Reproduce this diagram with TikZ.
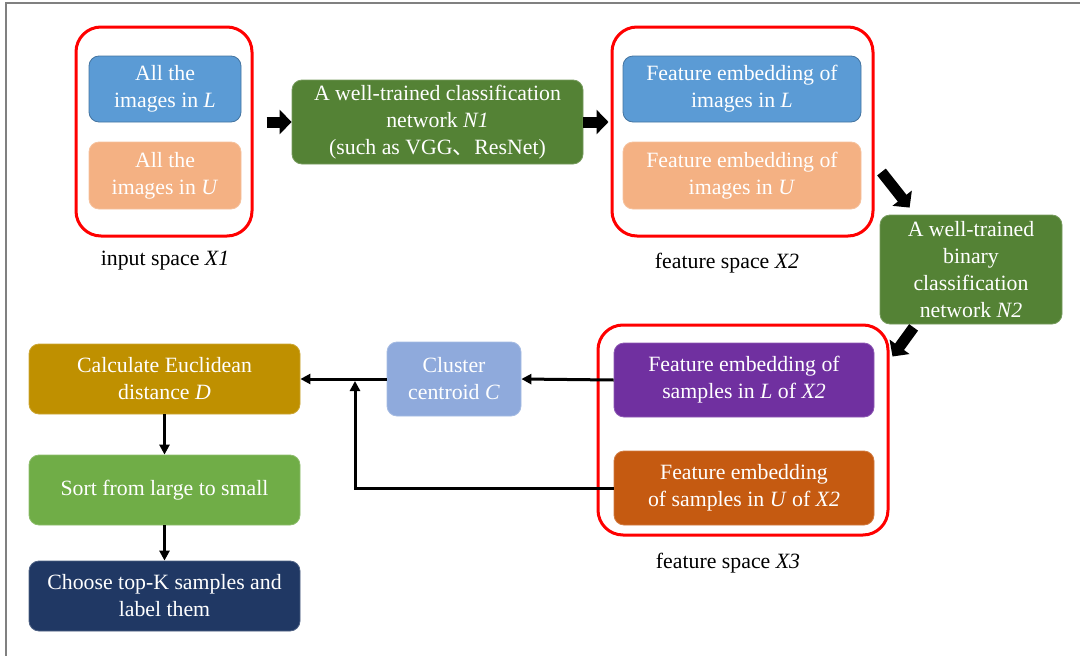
\documentclass[tikz,border=0pt]{standalone}
\usepackage{fontspec}
\setmainfont{Liberation Serif}
\newfontfamily\cjk{Noto Sans CJK SC}
\usetikzlibrary{arrows.meta}

\definecolor{lblue}{HTML}{5B9BD5}
\definecolor{lorange}{HTML}{F4B183}
\definecolor{netgreen}{HTML}{548235}
\definecolor{vpurple}{HTML}{7030A0}
\definecolor{dorange}{HTML}{C55A11}
\definecolor{cblue}{HTML}{8FAADC}
\definecolor{gold}{HTML}{BF9000}
\definecolor{lgreen}{HTML}{70AD47}
\definecolor{navy}{HTML}{203864}
\definecolor{framegray}{HTML}{808080}

\newcommand{\boxfont}{\fontsize{21.8}{27}\selectfont}

\tikzset{
  box/.style={rectangle, rounded corners=10pt, fill=#1, draw=#1!80!white,
    line width=0.8pt, text=white, align=center, font=\boxfont, inner sep=0pt},
  group/.style={rectangle, rounded corners=25pt, draw=red, line width=3pt, inner sep=0pt},
  caption/.style={font=\boxfont, text=black},
  blockarrow/.style={line width=11pt, -{Triangle[length=12pt,width=24pt]}},
  conn/.style={line width=3pt, -{Triangle[length=10pt,width=10pt]}}
}

\begin{document}
\begin{tikzpicture}[x=1pt,y=-1pt]
\useasboundingbox (0,0) rectangle (1080,656);

% page frame
\draw[framegray, line width=1.5pt] (6,656) -- (6,3) -- (1080,3);

% input space X1
\node[group, minimum width=176pt, minimum height=209pt] (g1) at (164,131.5) {};
\node[box=lblue, draw=lblue!75!black, minimum width=152pt, minimum height=66pt] (bL1) at (165,89)
  {All the\\images in \textit{L}};
\node[box=lorange, minimum width=152pt, minimum height=67pt] (bU1) at (165,175.5)
  {All the\\images in \textit{U}};
\node[caption] (c1) at (165,261) {input space \textit{X1}};

% classification network N1
\node[box=netgreen, minimum width=291pt, minimum height=84pt] (n1) at (437.5,122)
  {A well-trained classification\\network \textit{N1}\\(such as VGG{\cjk 、}ResNet)};

% feature space X2
\node[group, minimum width=261pt, minimum height=209pt] (g2) at (742.5,131.5) {};
\node[box=lblue, draw=lblue!75!black, minimum width=238pt, minimum height=66pt] (bL2) at (742,89)
  {Feature embedding of\\images in \textit{L}};
\node[box=lorange, minimum width=238pt, minimum height=67pt] (bU2) at (742,175.5)
  {Feature embedding of\\images in \textit{U}};
\node[caption] (c2) at (727,263) {feature space \textit{X2}};

% binary classification network N2
\node[box=netgreen, minimum width=182pt, minimum height=109pt] (n2) at (971,269.5)
  {A well-trained\\binary\\classification\\network \textit{N2}};

% feature space X3
\node[group, minimum width=290pt, minimum height=210pt] (g3) at (743,430) {};
\node[box=vpurple, minimum width=260pt, minimum height=74pt] (sL) at (744,380)
  {Feature embedding of\\samples in \textit{L} of \textit{X2}};
\node[box=dorange, minimum width=260pt, minimum height=74pt] (sU) at (744,488)
  {Feature embedding\\of samples in \textit{U} of \textit{X2}};
\node[caption] (c3) at (728,563) {feature space \textit{X3}};

% centroid and ranking steps
\node[box=cblue, minimum width=134pt, minimum height=74pt] (cc) at (454,379)
  {Cluster\\centroid \textit{C}};
\node[box=gold, minimum width=271pt, minimum height=70pt] (calc) at (164.5,379)
  {Calculate Euclidean\\distance \textit{D}};
\node[box=lgreen, minimum width=271pt, minimum height=70pt] (sort) at (164.5,490)
  {Sort from large to small};
\node[box=navy, minimum width=271pt, minimum height=70pt] (choose) at (164.5,596)
  {Choose top-K samples and\\label them};
\coordinate (j) at (355,381);

% block arrows
\draw[blockarrow] ([xshift=13pt]g1.east |- n1.west) -- (n1.west);
\draw[blockarrow] (n1.east) -- ([xshift=-2pt]g2.west |- n1.east);
\draw[blockarrow] ([xshift=7pt,yshift=-40.5pt]g2.east) -- ([xshift=30pt,yshift=7pt]n2.north west);
\draw[blockarrow] ([xshift=34pt,yshift=-3pt]n2.south west) -- ([xshift=3pt,yshift=-33pt]g3.north east);

% connectors
\draw[conn] (sL.west) -- (cc.east);
\draw[conn] (cc.west) -- (calc.east);
\draw[conn] (sU.west) -| (j);
\draw[conn] (calc.south) -- (sort.north);
\draw[conn] (sort.south) -- (choose.north);
\end{tikzpicture}
\end{document}
